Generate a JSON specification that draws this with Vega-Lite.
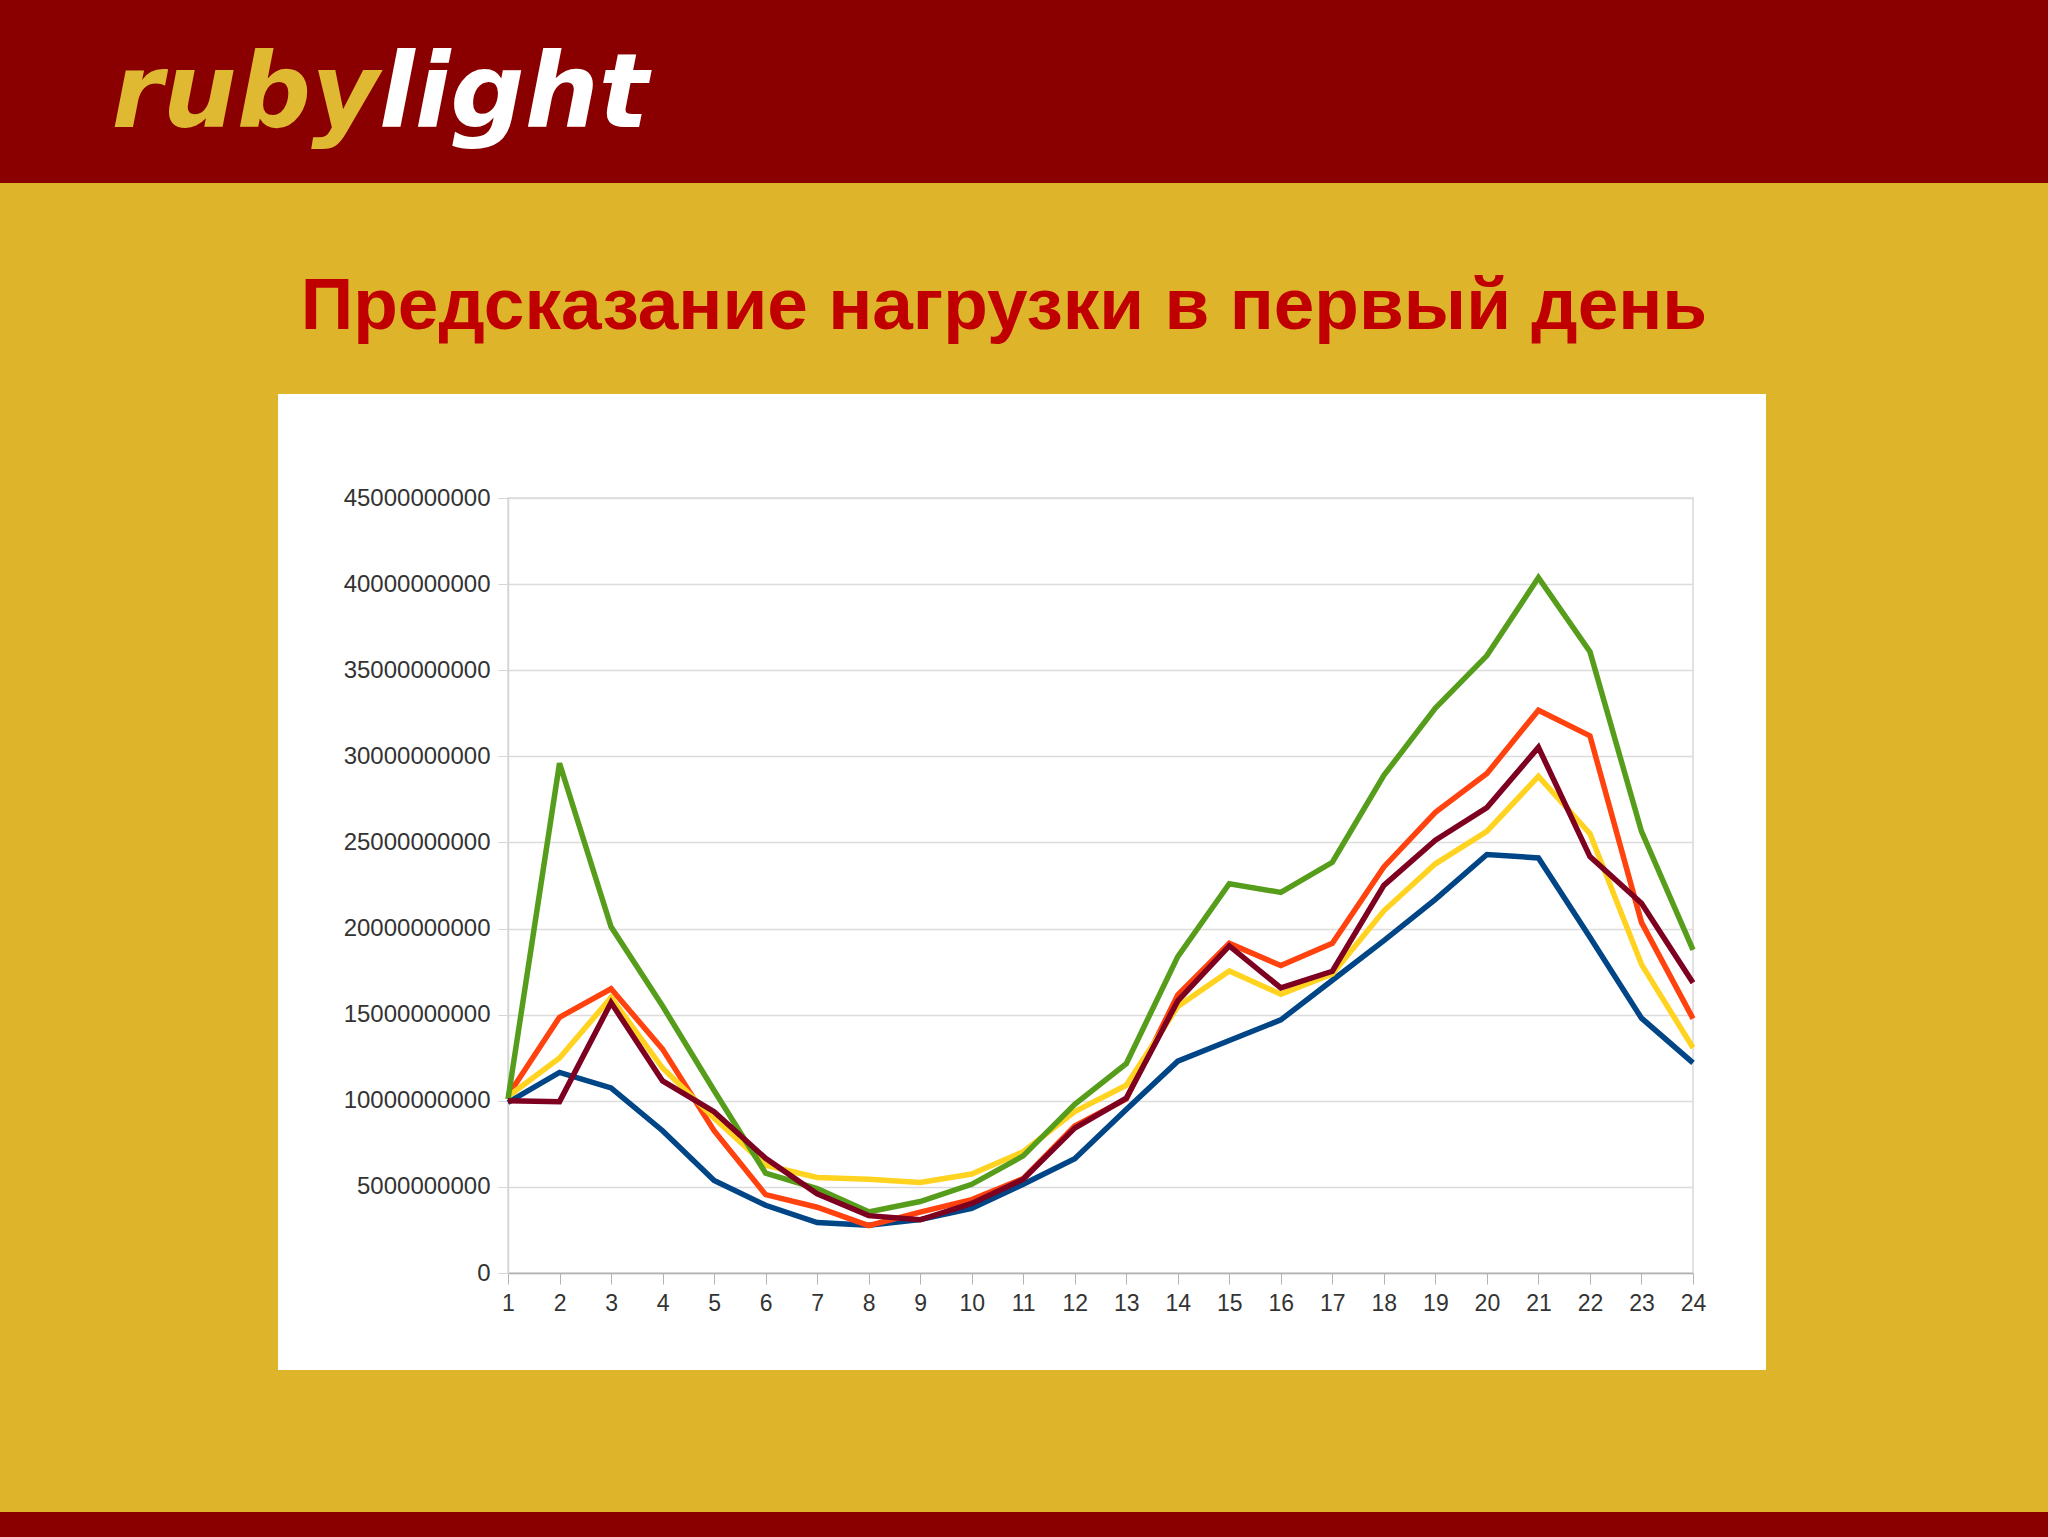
{
  "$schema": "https://vega.github.io/schema/vega-lite/v6.json",
  "width": 1185,
  "height": 775,
  "autosize": {"type": "none"},
  "padding": {"left": 508, "top": 498, "right": 355, "bottom": 264},
  "background": "#FFFFFF",
  "config": {
    "view": {"stroke": "#d9d9d9", "strokeWidth": 1.5},
    "axis": {"labelFont": "Liberation Sans", "labelFontSize": 24, "labelColor": "#333333", "title": null, "labelFlush": false, "labelOverlap": false}
  },
  "datasets": {
    "load": [
      {"hour": 1, "series": "Ряд 1", "value": 9900000000},
      {"hour": 2, "series": "Ряд 1", "value": 11650000000},
      {"hour": 3, "series": "Ряд 1", "value": 10750000000},
      {"hour": 4, "series": "Ряд 1", "value": 8260000000},
      {"hour": 5, "series": "Ряд 1", "value": 5370000000},
      {"hour": 6, "series": "Ряд 1", "value": 3930000000},
      {"hour": 7, "series": "Ряд 1", "value": 2930000000},
      {"hour": 8, "series": "Ряд 1", "value": 2780000000},
      {"hour": 9, "series": "Ряд 1", "value": 3100000000},
      {"hour": 10, "series": "Ряд 1", "value": 3750000000},
      {"hour": 11, "series": "Ряд 1", "value": 5150000000},
      {"hour": 12, "series": "Ряд 1", "value": 6640000000},
      {"hour": 13, "series": "Ряд 1", "value": 9500000000},
      {"hour": 14, "series": "Ряд 1", "value": 12300000000},
      {"hour": 15, "series": "Ряд 1", "value": 13500000000},
      {"hour": 16, "series": "Ряд 1", "value": 14700000000},
      {"hour": 17, "series": "Ряд 1", "value": 17000000000},
      {"hour": 18, "series": "Ряд 1", "value": 19300000000},
      {"hour": 19, "series": "Ряд 1", "value": 21700000000},
      {"hour": 20, "series": "Ряд 1", "value": 24300000000},
      {"hour": 21, "series": "Ряд 1", "value": 24100000000},
      {"hour": 22, "series": "Ряд 1", "value": 19500000000},
      {"hour": 23, "series": "Ряд 1", "value": 14800000000},
      {"hour": 24, "series": "Ряд 1", "value": 12200000000},
      {"hour": 1, "series": "Ряд 2", "value": 10300000000},
      {"hour": 2, "series": "Ряд 2", "value": 14850000000},
      {"hour": 3, "series": "Ряд 2", "value": 16500000000},
      {"hour": 4, "series": "Ряд 2", "value": 13000000000},
      {"hour": 5, "series": "Ряд 2", "value": 8260000000},
      {"hour": 6, "series": "Ряд 2", "value": 4550000000},
      {"hour": 7, "series": "Ряд 2", "value": 3820000000},
      {"hour": 8, "series": "Ряд 2", "value": 2750000000},
      {"hour": 9, "series": "Ряд 2", "value": 3530000000},
      {"hour": 10, "series": "Ряд 2", "value": 4260000000},
      {"hour": 11, "series": "Ряд 2", "value": 5480000000},
      {"hour": 12, "series": "Ряд 2", "value": 8530000000},
      {"hour": 13, "series": "Ряд 2", "value": 10100000000},
      {"hour": 14, "series": "Ряд 2", "value": 16150000000},
      {"hour": 15, "series": "Ряд 2", "value": 19140000000},
      {"hour": 16, "series": "Ряд 2", "value": 17850000000},
      {"hour": 17, "series": "Ряд 2", "value": 19140000000},
      {"hour": 18, "series": "Ряд 2", "value": 23580000000},
      {"hour": 19, "series": "Ряд 2", "value": 26750000000},
      {"hour": 20, "series": "Ряд 2", "value": 29000000000},
      {"hour": 21, "series": "Ряд 2", "value": 32680000000},
      {"hour": 22, "series": "Ряд 2", "value": 31190000000},
      {"hour": 23, "series": "Ряд 2", "value": 20360000000},
      {"hour": 24, "series": "Ряд 2", "value": 14770000000},
      {"hour": 1, "series": "Ряд 3", "value": 10250000000},
      {"hour": 2, "series": "Ряд 3", "value": 12480000000},
      {"hour": 3, "series": "Ряд 3", "value": 16000000000},
      {"hour": 4, "series": "Ряд 3", "value": 11900000000},
      {"hour": 5, "series": "Ряд 3", "value": 9000000000},
      {"hour": 6, "series": "Ряд 3", "value": 6260000000},
      {"hour": 7, "series": "Ряд 3", "value": 5550000000},
      {"hour": 8, "series": "Ряд 3", "value": 5440000000},
      {"hour": 9, "series": "Ряд 3", "value": 5260000000},
      {"hour": 10, "series": "Ряд 3", "value": 5750000000},
      {"hour": 11, "series": "Ряд 3", "value": 7040000000},
      {"hour": 12, "series": "Ряд 3", "value": 9370000000},
      {"hour": 13, "series": "Ряд 3", "value": 10900000000},
      {"hour": 14, "series": "Ряд 3", "value": 15480000000},
      {"hour": 15, "series": "Ряд 3", "value": 17540000000},
      {"hour": 16, "series": "Ряд 3", "value": 16190000000},
      {"hour": 17, "series": "Ряд 3", "value": 17370000000},
      {"hour": 18, "series": "Ряд 3", "value": 21030000000},
      {"hour": 19, "series": "Ряд 3", "value": 23760000000},
      {"hour": 20, "series": "Ряд 3", "value": 25640000000},
      {"hour": 21, "series": "Ряд 3", "value": 28840000000},
      {"hour": 22, "series": "Ряд 3", "value": 25510000000},
      {"hour": 23, "series": "Ряд 3", "value": 17920000000},
      {"hour": 24, "series": "Ряд 3", "value": 13080000000},
      {"hour": 1, "series": "Ряд 4", "value": 10100000000},
      {"hour": 2, "series": "Ряд 4", "value": 29600000000},
      {"hour": 3, "series": "Ряд 4", "value": 20100000000},
      {"hour": 4, "series": "Ряд 4", "value": 15500000000},
      {"hour": 5, "series": "Ряд 4", "value": 10600000000},
      {"hour": 6, "series": "Ряд 4", "value": 5800000000},
      {"hour": 7, "series": "Ряд 4", "value": 4900000000},
      {"hour": 8, "series": "Ряд 4", "value": 3550000000},
      {"hour": 9, "series": "Ряд 4", "value": 4150000000},
      {"hour": 10, "series": "Ряд 4", "value": 5150000000},
      {"hour": 11, "series": "Ряд 4", "value": 6800000000},
      {"hour": 12, "series": "Ряд 4", "value": 9800000000},
      {"hour": 13, "series": "Ряд 4", "value": 12150000000},
      {"hour": 14, "series": "Ряд 4", "value": 18370000000},
      {"hour": 15, "series": "Ряд 4", "value": 22600000000},
      {"hour": 16, "series": "Ряд 4", "value": 22100000000},
      {"hour": 17, "series": "Ряд 4", "value": 23850000000},
      {"hour": 18, "series": "Ряд 4", "value": 28900000000},
      {"hour": 19, "series": "Ряд 4", "value": 32800000000},
      {"hour": 20, "series": "Ряд 4", "value": 35850000000},
      {"hour": 21, "series": "Ряд 4", "value": 40380000000},
      {"hour": 22, "series": "Ряд 4", "value": 36070000000},
      {"hour": 23, "series": "Ряд 4", "value": 25640000000},
      {"hour": 24, "series": "Ряд 4", "value": 18760000000},
      {"hour": 1, "series": "Ряд 5", "value": 10000000000},
      {"hour": 2, "series": "Ряд 5", "value": 9950000000},
      {"hour": 3, "series": "Ряд 5", "value": 15700000000},
      {"hour": 4, "series": "Ряд 5", "value": 11150000000},
      {"hour": 5, "series": "Ряд 5", "value": 9370000000},
      {"hour": 6, "series": "Ряд 5", "value": 6660000000},
      {"hour": 7, "series": "Ряд 5", "value": 4600000000},
      {"hour": 8, "series": "Ряд 5", "value": 3330000000},
      {"hour": 9, "series": "Ряд 5", "value": 3090000000},
      {"hour": 10, "series": "Ряд 5", "value": 4040000000},
      {"hour": 11, "series": "Ряд 5", "value": 5440000000},
      {"hour": 12, "series": "Ряд 5", "value": 8410000000},
      {"hour": 13, "series": "Ряд 5", "value": 10150000000},
      {"hour": 14, "series": "Ряд 5", "value": 15800000000},
      {"hour": 15, "series": "Ряд 5", "value": 18990000000},
      {"hour": 16, "series": "Ряд 5", "value": 16550000000},
      {"hour": 17, "series": "Ряд 5", "value": 17520000000},
      {"hour": 18, "series": "Ряд 5", "value": 22510000000},
      {"hour": 19, "series": "Ряд 5", "value": 25130000000},
      {"hour": 20, "series": "Ряд 5", "value": 27020000000},
      {"hour": 21, "series": "Ряд 5", "value": 30520000000},
      {"hour": 22, "series": "Ряд 5", "value": 24180000000},
      {"hour": 23, "series": "Ряд 5", "value": 21470000000},
      {"hour": 24, "series": "Ряд 5", "value": 16850000000}
    ]
  },
  "layer": [
    {
      "data": {"values": [{}]},
      "mark": {"type": "rect", "color": "#DDB42A", "clip": false},
      "encoding": {
        "x": {"datum": -9.5, "type": "quantitative"},
        "x2": {"datum": 31.5},
        "y": {"datum": 76000000000, "type": "quantitative"},
        "y2": {"datum": 51040000000}
      }
    },
    {
      "data": {"values": [{}]},
      "mark": {"type": "rect", "color": "#DDB42A", "clip": false},
      "encoding": {
        "x": {"datum": -9.5, "type": "quantitative"},
        "x2": {"datum": -3.464},
        "y": {"datum": 51040000000, "type": "quantitative"},
        "y2": {"datum": -5632000000}
      }
    },
    {
      "data": {"values": [{}]},
      "mark": {"type": "rect", "color": "#DDB42A", "clip": false},
      "encoding": {
        "x": {"datum": 25.417, "type": "quantitative"},
        "x2": {"datum": 31.5},
        "y": {"datum": 51040000000, "type": "quantitative"},
        "y2": {"datum": -5632000000}
      }
    },
    {
      "data": {"values": [{}]},
      "mark": {"type": "rect", "color": "#DDB42A", "clip": false},
      "encoding": {
        "x": {"datum": -9.5, "type": "quantitative"},
        "x2": {"datum": 31.5},
        "y": {"datum": -5632000000, "type": "quantitative"},
        "y2": {"datum": -13877000000}
      }
    },
    {
      "data": {"values": [{}]},
      "mark": {"type": "rect", "color": "#8A0000", "clip": false},
      "encoding": {
        "x": {"datum": -9.5, "type": "quantitative"},
        "x2": {"datum": 31.5},
        "y": {"datum": 76000000000, "type": "quantitative"},
        "y2": {"datum": 63290000000}
      }
    },
    {
      "data": {"values": [{}]},
      "mark": {"type": "rect", "color": "#8A0000", "clip": false},
      "encoding": {
        "x": {"datum": -9.5, "type": "quantitative"},
        "x2": {"datum": 31.5},
        "y": {"datum": -13877000000, "type": "quantitative"},
        "y2": {"datum": -16500000000}
      }
    },
    {
      "data": {"values": [{}]},
      "mark": {"type": "text", "text": "ruby", "align": "right", "baseline": "alphabetic", "font": "DejaVu Sans", "fontWeight": "bold", "fontStyle": "italic", "fontSize": 104, "color": "#E0B932", "clip": false},
      "encoding": {
        "x": {"datum": -1.504, "type": "quantitative"},
        "y": {"datum": 66540000000, "type": "quantitative"}
      }
    },
    {
      "data": {"values": [{}]},
      "mark": {"type": "text", "text": "light", "align": "left", "baseline": "alphabetic", "font": "DejaVu Sans", "fontWeight": "bold", "fontStyle": "italic", "fontSize": 104, "color": "#FFFFFF", "clip": false},
      "encoding": {
        "x": {"datum": -1.504, "type": "quantitative"},
        "y": {"datum": 66540000000, "type": "quantitative"}
      }
    },
    {
      "data": {"values": [{}]},
      "mark": {"type": "text", "text": "Предсказание нагрузки в первый день", "align": "center", "baseline": "alphabetic", "font": "Liberation Sans", "fontWeight": "bold", "fontSize": 73, "color": "#C00000", "clip": false},
      "encoding": {
        "x": {"datum": 10.627, "type": "quantitative"},
        "y": {"datum": 54810000000, "type": "quantitative"}
      }
    },
    {
      "data": {"name": "load"},
      "mark": {"type": "line", "strokeWidth": 5.5, "clip": false},
      "encoding": {
        "x": {
          "field": "hour", "type": "quantitative",
          "scale": {"domain": [1, 24], "nice": false, "zero": false},
          "axis": {"values": [1,2,3,4,5,6,7,8,9,10,11,12,13,14,15,16,17,18,19,20,21,22,23,24], "format": "d", "grid": false, "tickSize": 11, "tickColor": "#b3b3b3", "domainColor": "#b3b3b3", "domainWidth": 1.5, "labelPadding": 8, "labelFontSize": 23}
        },
        "y": {
          "field": "value", "type": "quantitative",
          "scale": {"domain": [0, 45000000000], "nice": false, "zero": true},
          "axis": {"values": [0,5000000000,10000000000,15000000000,20000000000,25000000000,30000000000,35000000000,40000000000,45000000000], "format": "d", "grid": true, "gridColor": "#dcdcdc", "gridWidth": 1.5, "tickSize": 10, "tickColor": "#d6d6d6", "domainColor": "#d6d6d6", "domainWidth": 1.5, "labelPadding": 8}
        },
        "color": {
          "field": "series", "type": "nominal",
          "scale": {"domain": ["Ряд 1", "Ряд 2", "Ряд 3", "Ряд 4", "Ряд 5"], "range": ["#004586", "#FF420E", "#FFD320", "#579D1C", "#7E0021"]},
          "legend": null
        }
      }
    }
  ]
}
